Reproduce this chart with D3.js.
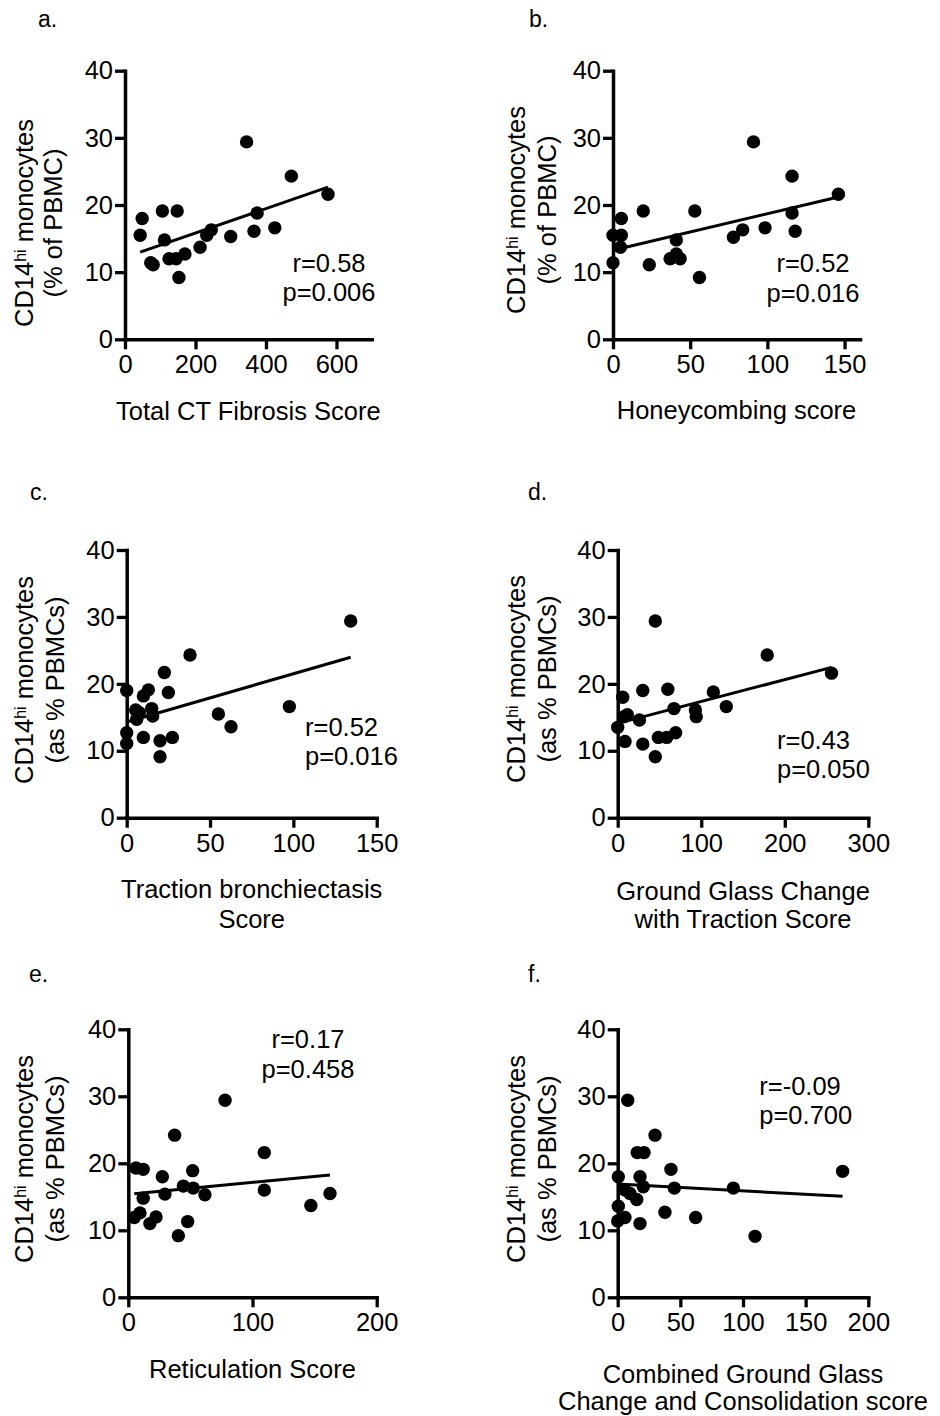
<!DOCTYPE html>
<html>
<head>
<meta charset="utf-8">
<script src="https://cdn.jsdelivr.net/npm/d3@7"></script>
<style>
  body { margin: 0; background: #fff; }
  svg text { font-family: "Liberation Sans", Arial, Helvetica, sans-serif; fill: #000; }
</style>
</head>
<body>
<div id="chart"></div>
<script>
// ---- data (x = CT score, y = CD14hi monocytes %) ----
var aX = [48.7, 43, 73, 80, 106, 112, 125, 148, 145, 153, 170, 213, 232, 245, 300, 345, 366, 375, 425, 472, 576];
var aY = [18.0, 15.5, 11.4, 11.1, 19.1, 14.8, 12.0, 19.1, 12.0, 9.2, 12.7, 13.7, 15.5, 16.3, 15.3, 29.4, 16.1, 18.8, 16.6, 24.3, 21.6];

var bX = [0, 0, 5.4, 5.4, 4.8, 19.6, 23.5, 37, 41, 41, 43.5, 53, 56, 78, 84, 91, 98.5, 116, 116, 118, 146];
var bY = [15.5, 11.4, 18.0, 15.5, 13.7, 19.1, 11.1, 12.0, 14.8, 12.7, 12.0, 19.1, 9.2, 15.2, 16.3, 29.4, 16.6, 24.3, 18.8, 16.1, 21.6];

var cX = [0, 0, 0, 5.4, 6, 7.6, 15, 15.6, 10, 13, 10, 20, 20, 22.6, 25, 27.4, 38, 55, 62.6, 97.6, 134.4];
var cY = [19.0, 12.7, 11.1, 16.1, 14.7, 15.7, 16.3, 15.2, 18.2, 19.1, 12.0, 11.5, 9.1, 21.7, 18.7, 12.0, 24.3, 15.5, 13.6, 16.6, 29.4];

var dX = [0, 6, 8.8, 7.6, 11.6, 26, 30, 30, 45, 45, 48.7, 58.6, 60, 67.4, 69.4, 93, 94, 114.5, 130, 179, 256];
var dY = [13.5, 18.0, 11.4, 15.1, 15.4, 14.6, 19.0, 11.0, 29.4, 9.1, 12.0, 12.0, 19.2, 16.3, 12.7, 16.1, 15.1, 18.8, 16.6, 24.3, 21.6];

var eX = [4.8, 6.2, 9.4, 12, 12, 17.4, 22.3, 27.4, 29.5, 37.3, 40.3, 44.3, 47.8, 51.8, 52.3, 61.7, 77.9, 109.5, 109.5, 147, 162.4];
var eY = [11.9, 19.3, 12.6, 19.1, 14.8, 11.0, 12.0, 18.0, 15.4, 24.2, 9.2, 16.6, 11.3, 18.9, 16.3, 15.3, 29.4, 21.6, 16.0, 13.7, 15.5];

var fX = [29.8, 15.6, 21, 42.5, 0.5, 17.8, 20.4, 45.2, 5.8, 9.8, 15.2, 0.5, 5.8, 0, 17.8, 37.7, 62.2, 8, 92.3, 109.6, 179.5];
var fY = [24.2, 21.6, 21.6, 19.1, 18.0, 18.0, 16.5, 16.3, 16.0, 15.5, 14.6, 13.6, 11.9, 11.4, 11.0, 12.7, 11.9, 29.4, 16.3, 9.1, 18.8];

var panelLetters = ["a.", "b.", "c.", "d.", "e.", "f."];
var xTitles = [
  ["Total CT Fibrosis Score"],
  ["Honeycombing score"],
  ["Traction bronchiectasis", "Score"],
  ["Ground Glass Change", "with Traction Score"],
  ["Reticulation Score"],
  ["Combined Ground Glass", "Change and Consolidation score"]
];
var yTitle2 = ["(% of PBMC)", "(% of PBMC)", "(as % PBMCs)", "(as % PBMCs)", "(as % PBMCs)", "(as % PBMCs)"];
var rTexts = ["r=0.58", "r=0.52", "r=0.52", "r=0.43", "r=0.17", "r=-0.09"];
var pTexts = ["p=0.006", "p=0.016", "p=0.016", "p=0.050", "p=0.458", "p=0.700"];
var xMax = [700, 160, 150, 300, 200, 200];
var xTicks = [[0, 200, 400, 600], [0, 50, 100, 150], [0, 50, 100, 150], [0, 100, 200, 300], [0, 100, 200], [0, 50, 100, 150, 200]];
var yTicks = [0, 10, 20, 30, 40];

// ---- page layout (pixels) ----
var layout = [
  { left: 125,   right: 371.7, top: 70.7,   bottom: 339.3,  lx: 38,    ly: 26.7,  t1: 33,  t2: 62,  tc: 223,  xt: [420],
    ann: { x: 329, anchor: "middle", y: [271.7, 301] } },
  { left: 613,   right: 860,   top: 70.7,   bottom: 339.3,  lx: 529,   ly: 26.7,  t1: 525, t2: 556, tc: 210,  xt: [419],
    ann: { x: 813, anchor: "middle", y: [271.7, 301.5] } },
  { left: 126.7, right: 376.7, top: 550,    bottom: 817.7,  lx: 30,    ly: 500,   t1: 33,  t2: 64,  tc: 680,  xt: [898, 928],
    ann: { x: 305, anchor: "start", y: [735.7, 765] } },
  { left: 617.7, right: 868.3, top: 550,    bottom: 817.7,  lx: 528,   ly: 500,   t1: 525, t2: 556, tc: 679,  xt: [900, 928],
    ann: { x: 777, anchor: "start", y: [749.3, 778.3] } },
  { left: 128.3, right: 376.7, top: 1029.3, bottom: 1297.3, lx: 29,    ly: 981.7, t1: 33,  t2: 64,  tc: 1159, xt: [1378],
    ann: { x: 308, anchor: "middle", y: [1048.3, 1077.7] } },
  { left: 617.7, right: 868.3, top: 1029.3, bottom: 1297.3, lx: 528,   ly: 981.7, t1: 525, t2: 556, tc: 1159, xt: [1383, 1410],
    ann: { x: 759.3, anchor: "start", y: [1095, 1124] } }
];

var seriesX = [aX, bX, cX, dX, eX, fX];
var seriesY = [aY, bY, cY, dY, eY, fY];

var FS = "25.5px";

var svg = d3.select("#chart")
  .append("svg")
  .attr("width", 940)
  .attr("height", 1416);

function fitLine(xs, ys) {
  var mx = d3.mean(xs), my = d3.mean(ys);
  var sxy = d3.sum(xs, (v, i) => (v - mx) * (ys[i] - my));
  var sxx = d3.sum(xs, v => (v - mx) * (v - mx));
  var slope = sxy / sxx;
  return { slope: slope, intercept: my - slope * mx };
}

layout.forEach(function(L, i) {
  var xs = seriesX[i], ys = seriesY[i];
  var pts = xs.map((v, k) => ({ x: v, y: ys[k] }));

  var x = d3.scaleLinear().domain([0, xMax[i]]).range([L.left, L.right]);
  var y = d3.scaleLinear().domain([0, 40]).range([L.bottom, L.top]);

  var g = svg.append("g");

  // panel letter
  g.append("text")
    .attr("x", L.lx).attr("y", L.ly)
    .style("font-size", "23px")
    .text(panelLetters[i]);

  // axes
  var xAxis = d3.axisBottom(x).tickValues(xTicks[i]).tickSize(10).tickSizeOuter(0).tickPadding(6);
  var yAxis = d3.axisLeft(y).tickValues(yTicks).tickSize(10).tickSizeOuter(0).tickPadding(2);

  var gx = g.append("g").attr("transform", "translate(0," + L.bottom + ")").call(xAxis);
  var gy = g.append("g").attr("transform", "translate(" + L.left + ",0)").call(yAxis);

  [gx, gy].forEach(function(ax) {
    ax.select(".domain").attr("stroke-width", 3.5).attr("stroke-linecap", "square");
    ax.selectAll(".tick line").attr("stroke-width", 3.3);
    ax.selectAll(".tick text").style("font-size", FS).attr("fill", "#000");
  });

  // regression line across the data range
  var fit = fitLine(xs, ys);
  var ext = d3.extent(xs);
  var line = d3.line().x(d => x(d)).y(d => y(fit.intercept + fit.slope * d));
  g.append("path")
    .attr("d", line(ext))
    .attr("fill", "none")
    .attr("stroke", "#000")
    .attr("stroke-width", 3);

  // points
  g.selectAll("circle.pt")
    .data(pts)
    .enter().append("circle")
    .attr("class", "pt")
    .attr("cx", d => x(d.x))
    .attr("cy", d => y(d.y))
    .attr("r", 6.7)
    .attr("fill", "#000");

  // y title, two lines rotated
  var t1 = g.append("text")
    .attr("transform", "translate(" + L.t1 + "," + L.tc + ") rotate(-90)")
    .attr("text-anchor", "middle")
    .style("font-size", FS);
  t1.append("tspan").text("CD14");
  t1.append("tspan").attr("dy", -7).style("font-size", "16px").text("hi");
  t1.append("tspan").attr("dy", 7).text(" monocytes");

  g.append("text")
    .attr("transform", "translate(" + L.t2 + "," + L.tc + ") rotate(-90)")
    .attr("text-anchor", "middle")
    .style("font-size", FS)
    .text(yTitle2[i]);

  // x title
  var cx = (L.left + L.right) / 2;
  xTitles[i].forEach(function(s, k) {
    g.append("text")
      .attr("x", cx).attr("y", L.xt[k])
      .attr("text-anchor", "middle")
      .style("font-size", FS)
      .text(s);
  });

  // r / p annotation
  [rTexts[i], pTexts[i]].forEach(function(s, k) {
    g.append("text")
      .attr("x", L.ann.x).attr("y", L.ann.y[k])
      .attr("text-anchor", L.ann.anchor)
      .style("font-size", FS)
      .text(s);
  });
});
</script>
</body>
</html>
